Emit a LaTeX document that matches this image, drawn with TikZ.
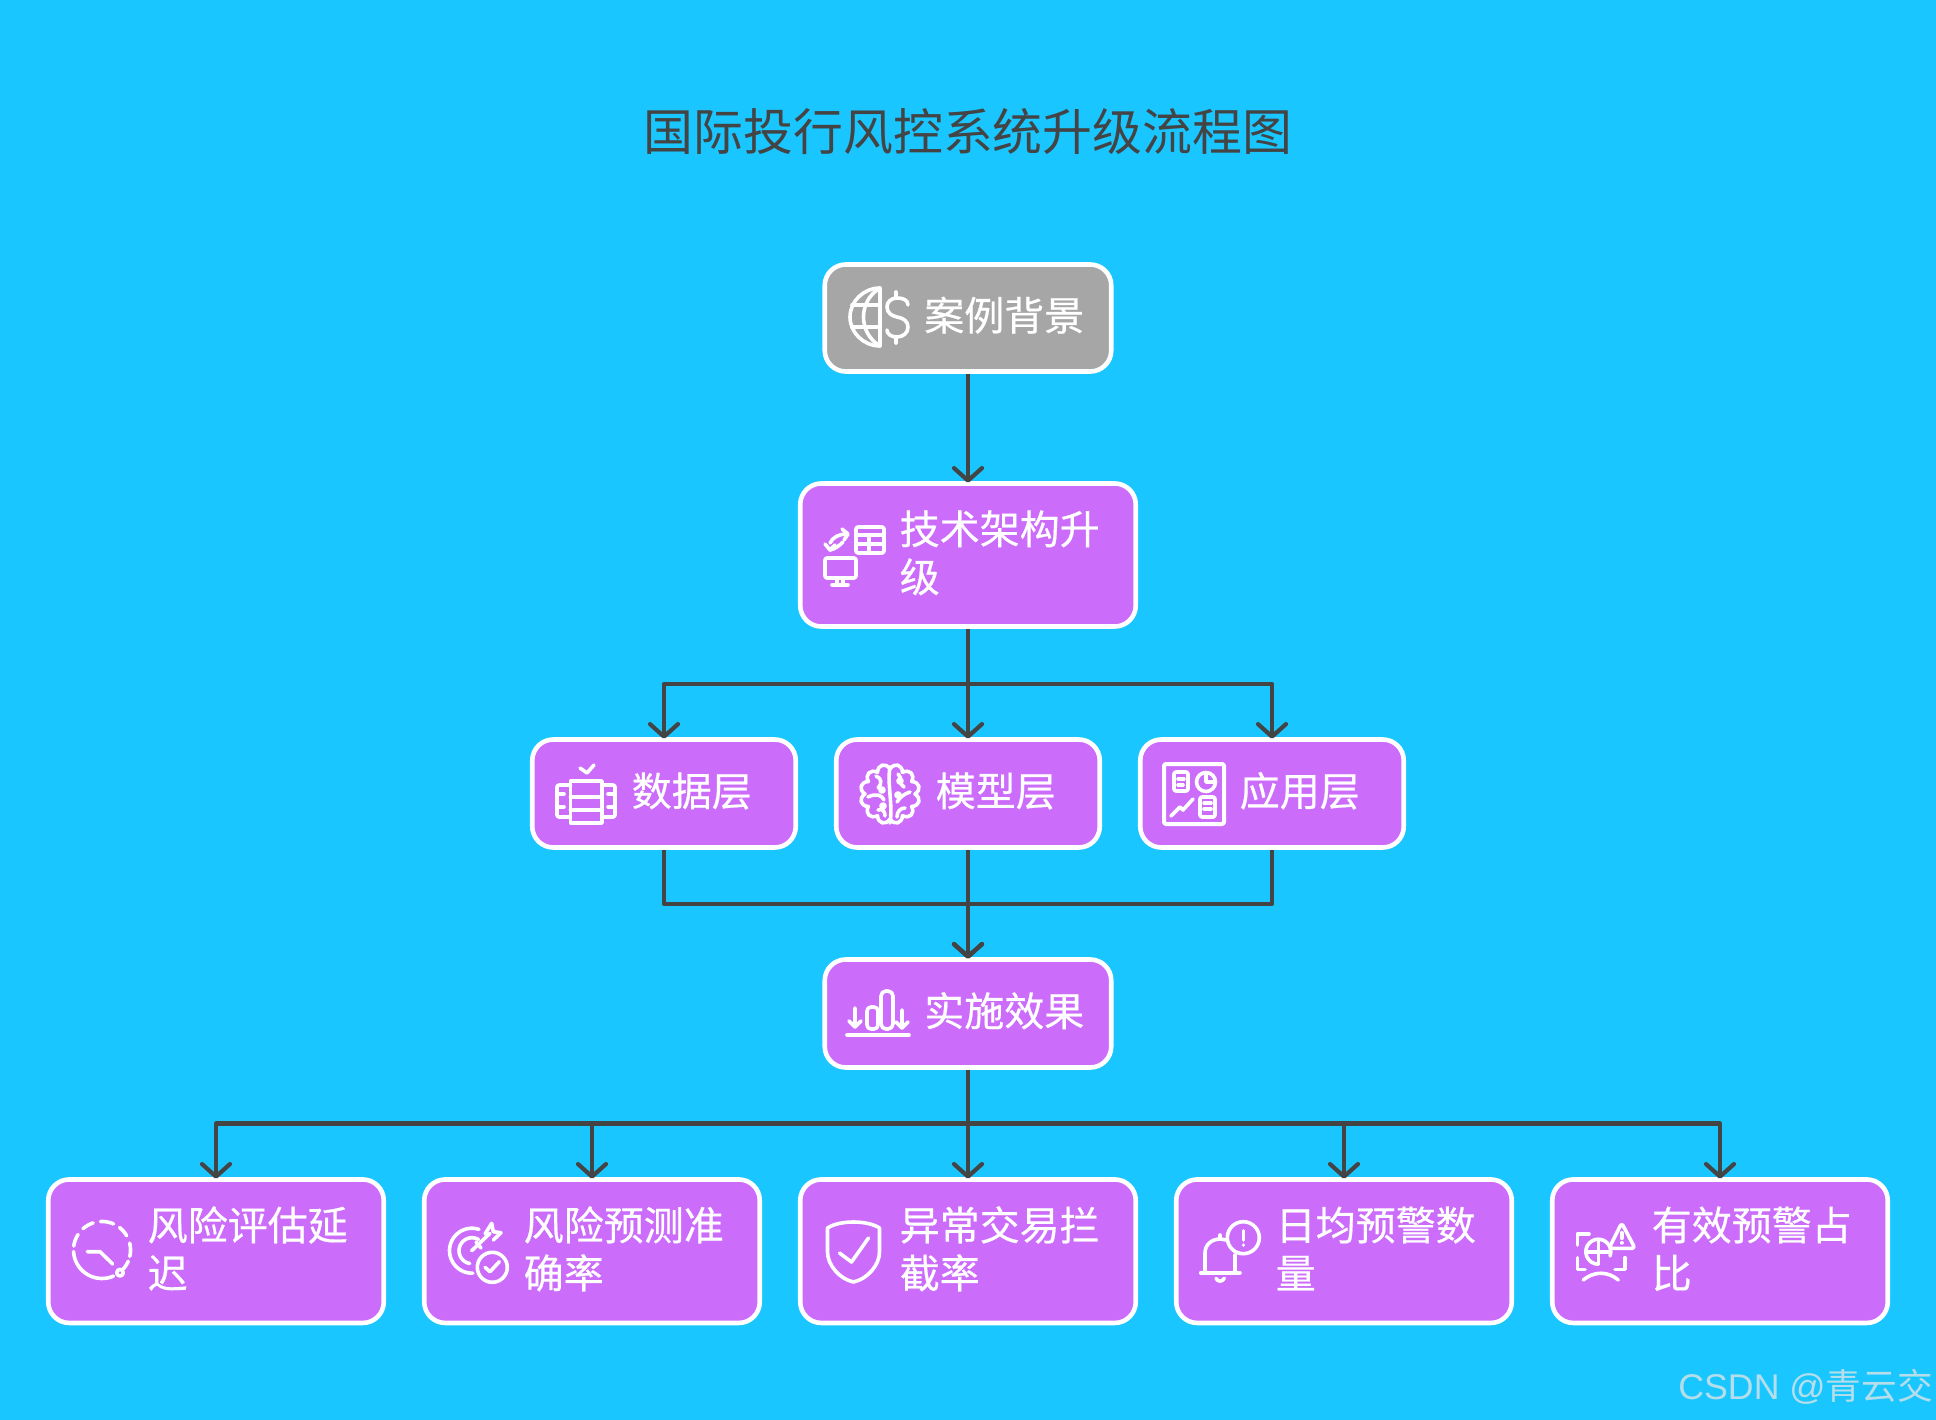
\documentclass[tikz,border=0pt]{standalone}
\usepackage{fontspec}
\setmainfont{Noto Sans CJK SC}
\newfontfamily\latinwm{Liberation Sans}
\newfontfamily\boxfont{Noto Sans CJK SC}[FakeBold=0.5]
\usetikzlibrary{arrows.meta}
\definecolor{bgc}{HTML}{1AC6FF}
\definecolor{purplec}{HTML}{CC6CFB}
\definecolor{greyc}{HTML}{A6A6A6}
\definecolor{linec}{HTML}{444444}
\definecolor{wmc}{HTML}{B4DEEA}
\newcommand\iarc[5]{plot[domain=#4:#5,samples=18,smooth,variable=\t] ({#1+#3*cos(\t)},{#2+#3*sin(\t)})}
\newcommand\ind{\hspace*{99.5pt}}
\tikzset{
  x=1pt,y=-1pt,
  flowbox/.style={draw=white,line width=4.6pt,fill=purplec,rounded corners=21pt,inner xsep=0pt,inner ysep=0pt,
    align=left,text=white,font=\boxfont\fontsize{40}{48}\selectfont,text height=34pt,text depth=9pt},
  flowtwo/.style={flowbox,text height=34pt,text depth=56pt},
  arr/.style={draw=linec,line width=4.2pt,line join=round,shorten >=-1.5pt,-{Straight Barb[length=12.5pt,width=28pt,line width=4.2pt,round]}},
  icon/.style={draw=white,line width=3.6pt,line cap=round,line join=round},
}
\begin{document}
\begin{tikzpicture}
\useasboundingbox (0,0) rectangle (1936,1420);
\fill[bgc] (0,0) rectangle (1936,1420);
\node[text=linec,font=\fontsize{49.9}{56}\selectfont] (title) at (968,131.5) {国际投行风控系统升级流程图};

\node[flowbox,fill=greyc,text width=286.5pt,minimum height=107pt] (case) at (968,318) {\ind 案例背景};
\node[flowtwo,text width=335.5pt,minimum height=143pt] (tech) at (968,555) {\ind 技术架构升\\\ind 级};
\node[flowbox,text width=263.5pt,minimum height=108pt] (data) at (664,793.5) {\ind 数据层};
\node[flowbox,text width=263.5pt,minimum height=108pt] (model) at (968,793.5) {\ind 模型层};
\node[flowbox,text width=263.5pt,minimum height=108pt] (app) at (1272,793.5) {\ind 应用层};
\node[flowbox,text width=286.5pt,minimum height=108pt] (effect) at (968,1013.5) {\ind 实施效果};
\node[flowtwo,text width=335.5pt,minimum height=143.5pt] (m1) at (216,1251.2) {\ind 风险评估延\\\ind 迟};
\node[flowtwo,text width=335.5pt,minimum height=143.5pt] (m2) at (592,1251.2) {\ind 风险预测准\\\ind 确率};
\node[flowtwo,text width=335.5pt,minimum height=143.5pt] (m3) at (968,1251.2) {\ind 异常交易拦\\\ind 截率};
\node[flowtwo,text width=335.5pt,minimum height=143.5pt] (m4) at (1344,1251.2) {\ind 日均预警数\\\ind 量};
\node[flowtwo,text width=335.5pt,minimum height=143.5pt] (m5) at (1720,1251.2) {\ind 有效预警占\\\ind 比};

\coordinate (b1) at (968,684);
\coordinate (b2) at (968,904);
\coordinate (b3) at (968,1123.5);
\draw[arr] (case.south) -- (tech.north);
\draw[arr] (tech.south) -- (b1) -| (data.north);
\draw[arr] (tech.south) -- (model.north);
\draw[arr] (tech.south) -- (b1) -| (app.north);
\draw[arr] (data.south) |- (b2) -- (effect.north);
\draw[arr] (model.south) -- (effect.north);
\draw[arr] (app.south) |- (b2) -- (effect.north);
\draw[arr] (effect.south) -- (b3) -| (m1.north);
\draw[arr] (effect.south) -- (b3) -| (m2.north);
\draw[arr] (effect.south) -- (m3.north);
\draw[arr] (effect.south) -- (b3) -| (m4.north);
\draw[arr] (effect.south) -- (b3) -| (m5.north);

% globe-dollar
\begin{scope}[shift={(878,317)},icon]
\draw (2,-29) .. controls (-14,-29) and (-28,-16) .. (-28,0) .. controls (-28,16) and (-14,29) .. (2,29) -- cycle;
\draw (2,-29) .. controls (-20,-16) and (-20,16) .. (2,29);
\draw (-26,-12) -- (2,-12) (-26,10) -- (2,10);
\draw (30,-12) .. controls (30,-17) and (25,-19) .. (19,-19) .. controls (13,-19) and (9,-15) .. (9,-10) .. controls (9,-4) and (14,-1) .. (19,0) .. controls (25,1) and (30,4) .. (30,10) .. controls (30,16) and (25,20) .. (19,20) .. controls (13,20) and (9,17) .. (9,13);
\draw (18,-25) -- (18,-19) (18,20) -- (18,26);
\end{scope}
% tech
\begin{scope}[shift={(854,556)},icon]
\draw[rounded corners=2pt] (2,-29) rectangle (30,-3);
\draw (2,-21) -- (30,-21) (2,-12) -- (30,-12) (15,-21) -- (15,-3);
\draw[rounded corners=2pt] (-29,2) rectangle (2,22);
\draw (-17,22) -- (-17,29) (-11,22) -- (-11,29) (-22,29) -- (-6,29);
\draw (-24,-13) .. controls (-21,-19) and (-15,-22) .. (-7,-22);
\draw (-12,-27) -- (-6,-22) -- (-10,-16);
\draw (-24,-6) .. controls (-19,-7) and (-15,-10) .. (-11,-14);
\draw (-29,-12) -- (-24,-6) -- (-19,-11);
\end{scope}
% data layer
\begin{scope}[shift={(586,794)},icon]
\draw (-15.5,-13) rectangle (16,29);
\draw (-15.5,3) -- (16,3) (-15.5,16) -- (16,16);
\draw[rounded corners=2pt] (-15.5,-9) -- (-29,-9) -- (-29,23) -- (-15.5,23);
\draw[rounded corners=2pt] (16,-9) -- (29,-9) -- (29,23) -- (16,23);
\draw (-29,0) -- (-22,0) (-29,13) -- (-22,13) (29,0) -- (22,0) (29,13) -- (22,13);
\draw (-6,-26) -- (1,-21) -- (8,-29);
\end{scope}
% brain
\begin{scope}[shift={(890,794)},icon]
\draw (0:25) \foreach \a in {30,60,...,360} { .. controls (\a-22:32) and (\a-8:32) .. (\a:25)} -- cycle;
\draw (0,-27) .. controls (-3,-10) and (3,10) .. (0,29);
\draw (-14,-18) .. controls (-8,-16) and (-8,-10) .. (-12,-6);
\draw (-22,3) .. controls (-14,-1) and (-8,1) .. (-6,6);
\draw (-12,16) .. controls (-7,14) and (-5,18) .. (-5,22);
\draw (8,-20) .. controls (13,-16) and (8,-10) .. (14,-7);
\draw (20,-2) .. controls (14,0) and (10,3) .. (7,8);
\draw (15,14) .. controls (10,14) and (7,18) .. (7,23);
\draw (-8,-4) circle[radius=2] (8,1) circle[radius=2] (-7,12) circle[radius=2] (10,-13) circle[radius=2];
\end{scope}
% app dashboard
\begin{scope}[shift={(1194,794)},icon]
\draw[line width=4pt,rounded corners=2pt] (-30,-30) rectangle (30,30);
\draw[rounded corners=2pt] (-20,-22) rectangle (-6,-3);
\draw (-16,-15) -- (-10,-15) (-16,-9) -- (-11,-9);
\draw (12,-12) circle[radius=9.5];
\draw (12,-21) -- (12,-12) -- (21,-12);
\draw (-23,22) -- (-14,13) -- (-11,16) -- (-1,5);
\draw[rounded corners=2pt] (6,3) rectangle (21,23);
\draw (10,9) -- (17,9) (10,15) -- (17,15);
\end{scope}
% effect
\begin{scope}[shift={(878,1014)},icon]
\draw (-31,21) -- (31,21);
\draw[rounded corners=4pt] (-11,15) -- (-11,-7) -- (0,-7) -- (0,15) -- cycle;
\draw[rounded corners=5pt] (3,15) -- (3,-23) -- (15,-23) -- (15,15) -- cycle;
\draw (-23,-6) -- (-23,13) (-29,7) -- (-23,13) -- (-17,7);
\draw (24,-4) -- (24,14) (18,8) -- (24,14) -- (30,8);
\end{scope}
% delay
\begin{scope}[shift={(102,1250)},icon]
\draw \iarc{0}{0}{28.5}{66}{177};
\draw \iarc{0}{0}{28.5}{23}{41};
\draw \iarc{0}{0}{28.5}{-14}{13};
\draw \iarc{0}{0}{28.5}{-52}{-30};
\draw \iarc{0}{0}{28.5}{-93}{-66};
\draw \iarc{0}{0}{28.5}{-132}{-108};
\draw \iarc{0}{0}{28.5}{-172}{-147};
\draw (18,22.7) circle[radius=3.3];
\draw (-14.7,1.7) -- (-2,1.7) -- (10.7,14);
\end{scope}
% target
\begin{scope}[shift={(478,1252)},icon]
\draw \iarc{-6}{-1.3}{22.5}{-272}{-72};
\draw \iarc{-6}{-1.3}{13}{-260}{-60};
\draw (-6.3,-1.3) -- (12,-18.7);
\draw (7,-18) -- (13.7,-28.7) -- (15.3,-20.3) -- (23,-19.3) -- (15.3,-12);
\draw (-2,-10) -- (3,-4);
\draw (14.3,15.3) circle[radius=15];
\draw (7,15.3) -- (12,19.7) -- (21.3,9.7);
\end{scope}
% shield
\begin{scope}[shift={(853.5,1252)},icon]
\draw (0,-30) .. controls (-10,-30) and (-20,-28) .. (-26,-24) -- (-26,0) .. controls (-26,13) and (-14,27) .. (0,30) .. controls (14,27) and (26,13) .. (26,0) -- (26,-24) .. controls (20,-28) and (10,-30) .. (0,-30) -- cycle;
\draw (-14,1) -- (-2,10) -- (15,-14);
\end{scope}
% bell
\begin{scope}[shift={(1230.5,1252)},icon]
\draw (12.8,-14.3) circle[radius=16];
\draw (12.8,-21.3) -- (12.8,-12);
\draw (12.8,-7) -- (12.8,-6.8);
\draw (-29.8,20.7) -- (9.5,20.7);
\draw (-25.5,20.7) -- (-25.5,1) .. controls (-25.5,-8) and (-18,-13) .. (-10.5,-13) -- (-4,-12);
\draw (-10.5,-17) -- (-10.5,-13);
\draw (4.5,3) -- (4.5,20.7);
\draw (-14.5,26.3) .. controls (-13,30) and (-8,30) .. (-6.2,26.3);
\end{scope}
% risk
\begin{scope}[shift={(1606,1252)},icon]
\draw[rounded corners=3pt] (15.7,-29) -- (3,-3.7) -- (29,-3.7) -- cycle;
\draw (15.7,-19.3) -- (15.7,-13.7);
\draw (15.7,-9.3) -- (15.7,-9.1);
\draw (-28.7,-7) -- (-28.7,-18) -- (-17,-18);
\draw (-28.7,5.7) -- (-28.7,17.3) -- (-21,17.3);
\draw (19,5.7) -- (19,17.3) -- (9,17.3);
\draw \iarc{-7.7}{-0.3}{12.5}{-270}{20};
\draw (-7.7,-13) -- (-7.7,12) (-20,-0.3) -- (4,-0.3);
\draw (-22.7,28) .. controls (-12,19) and (2,19) .. (12.3,28);
\end{scope}

\node[text=wmc,font=\fontsize{35.7}{40}\selectfont,anchor=east,inner sep=0pt] (wm) at (1933,1387) {{\latinwm CSDN @}青云交};
\end{tikzpicture}
\end{document}
